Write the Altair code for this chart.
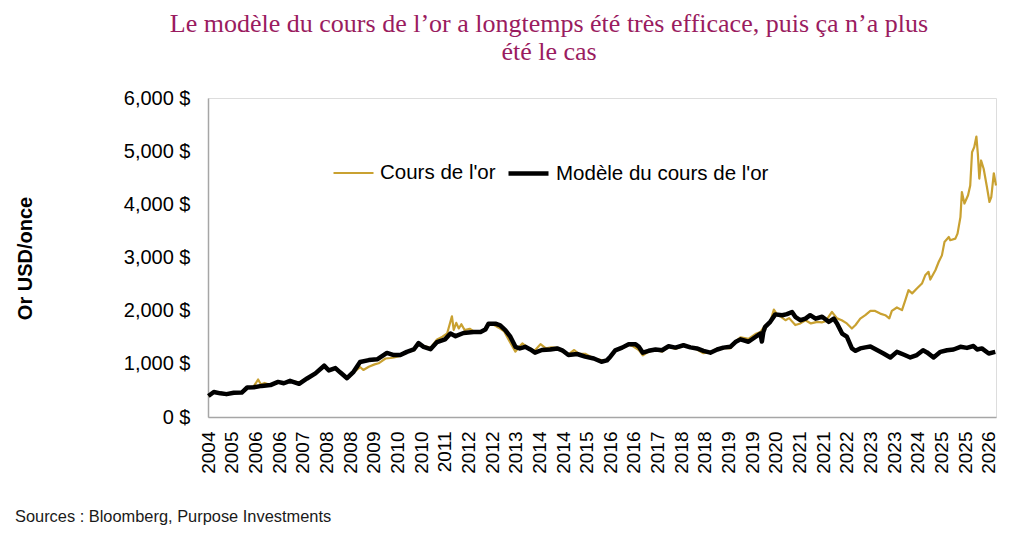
import altair as alt
import pandas as pd

# ---------------- data ----------------
SERIES = ["Cours de l'or", "Modèle du cours de l'or"]
COLORS = ["#C9A131", "#000000"]

model_t = [2005.00, 2005.15, 2005.33, 2005.50, 2005.70, 2005.92, 2006.07, 2006.25, 2006.47, 2006.71,
           2006.92, 2007.08, 2007.25, 2007.50, 2007.72, 2007.95, 2008.19, 2008.32, 2008.50, 2008.63,
           2008.82, 2009.00, 2009.18, 2009.42, 2009.65, 2009.92, 2010.11, 2010.29, 2010.47, 2010.66,
           2010.79, 2010.93, 2011.12, 2011.30, 2011.52, 2011.67, 2011.81, 2012.03, 2012.31, 2012.50,
           2012.63, 2012.72, 2012.91, 2013.04, 2013.18, 2013.32, 2013.46, 2013.58, 2013.73, 2013.87,
           2014.00, 2014.19, 2014.42, 2014.61, 2014.75, 2014.92, 2015.16, 2015.38, 2015.62, 2015.83,
           2015.98, 2016.08, 2016.21, 2016.40, 2016.58, 2016.77, 2016.86, 2016.97, 2017.13, 2017.32,
           2017.50, 2017.68, 2017.87, 2018.09, 2018.28, 2018.46, 2018.64, 2018.83, 2019.02, 2019.19,
           2019.38, 2019.52, 2019.66, 2019.88, 2020.07, 2020.21, 2020.25, 2020.29, 2020.34, 2020.48,
           2020.62, 2020.81, 2020.94, 2021.08, 2021.17, 2021.31, 2021.45, 2021.58, 2021.73, 2021.91,
           2022.09, 2022.23, 2022.32, 2022.46, 2022.59, 2022.73, 2022.83, 2022.96, 2023.10, 2023.24,
           2023.42, 2023.60, 2023.79, 2023.97, 2024.15, 2024.34, 2024.52, 2024.69, 2024.80, 2024.98,
           2025.17, 2025.35, 2025.53, 2025.72, 2025.90, 2026.08, 2026.18, 2026.31, 2026.50, 2026.68]
model_v = [395, 470, 445, 430, 455, 460, 555, 560, 585, 600,
           660, 635, 680, 625, 725, 820, 965, 875, 920, 840,
           730, 850, 1035, 1070, 1085, 1205, 1165, 1165, 1225, 1270,
           1390, 1320, 1275, 1410, 1460, 1570, 1520, 1580, 1600, 1600,
           1645, 1755, 1755, 1725, 1635, 1510, 1320, 1290, 1320, 1270,
           1210, 1260, 1270, 1290, 1255, 1165, 1185, 1135, 1100, 1040,
           1065, 1140, 1255, 1305, 1370, 1370, 1320, 1210, 1245, 1270,
           1255, 1330, 1305, 1350, 1310, 1290, 1245, 1210, 1270, 1305,
           1320, 1410, 1460, 1415, 1505, 1570, 1420, 1600, 1695, 1790,
           1930, 1915, 1935, 1975, 1885, 1820, 1850, 1915, 1850, 1885,
           1790, 1850, 1760, 1570, 1510, 1290, 1245, 1290, 1310, 1325,
           1260, 1195, 1120, 1225, 1175, 1120, 1165, 1255, 1215, 1120,
           1225, 1255, 1270, 1320, 1300, 1335, 1270, 1290, 1195, 1225]

gold_t = [2005.00, 2005.15, 2005.33, 2005.50, 2005.70, 2005.92, 2006.07, 2006.25, 2006.37, 2006.45,
          2006.55, 2006.71, 2006.92, 2007.08, 2007.25, 2007.50, 2007.72, 2007.95, 2008.19, 2008.32,
          2008.50, 2008.63, 2008.82, 2009.00, 2009.18, 2009.27, 2009.42, 2009.58, 2009.69, 2009.88,
          2010.02, 2010.11, 2010.29, 2010.47, 2010.66, 2010.79, 2010.93, 2011.12, 2011.30, 2011.45,
          2011.58, 2011.71, 2011.76, 2011.83, 2011.90, 2011.97, 2012.06, 2012.20, 2012.31, 2012.45,
          2012.60, 2012.72, 2012.85, 2013.00, 2013.15, 2013.30, 2013.46, 2013.58, 2013.65, 2013.80,
          2013.95, 2014.15, 2014.30, 2014.45, 2014.61, 2014.75, 2014.92, 2015.08, 2015.20, 2015.38,
          2015.62, 2015.83, 2015.98, 2016.08, 2016.21, 2016.40, 2016.58, 2016.70, 2016.86, 2016.97,
          2017.13, 2017.32, 2017.50, 2017.68, 2017.87, 2018.09, 2018.28, 2018.46, 2018.64, 2018.83,
          2019.02, 2019.19, 2019.38, 2019.52, 2019.66, 2019.88, 2020.07, 2020.21, 2020.34, 2020.48,
          2020.58, 2020.68, 2020.78, 2020.90, 2021.00, 2021.17, 2021.31, 2021.45, 2021.60, 2021.78,
          2021.90, 2022.00, 2022.18, 2022.32, 2022.45, 2022.59, 2022.73, 2022.83, 2022.96, 2023.10,
          2023.24, 2023.37, 2023.51, 2023.65, 2023.76, 2023.83, 2023.97, 2024.11, 2024.20, 2024.29,
          2024.39, 2024.52, 2024.66, 2024.75, 2024.84, 2024.89, 2025.03, 2025.12, 2025.21, 2025.28,
          2025.40, 2025.44, 2025.58, 2025.64, 2025.72, 2025.76, 2025.83, 2025.93, 2025.99, 2026.04,
          2026.10, 2026.16, 2026.20, 2026.24, 2026.29, 2026.36, 2026.45, 2026.52, 2026.57, 2026.64,
          2026.70]
gold_v = [400, 465, 440, 430, 455, 470, 550, 575, 705, 610,
          640, 600, 640, 650, 680, 650, 730, 820, 960, 880,
          915, 830, 740, 840, 940, 885, 945, 990, 1010, 1100,
          1110, 1120, 1150, 1225, 1255, 1380, 1340, 1300, 1460, 1510,
          1575, 1895, 1640, 1770, 1665, 1745, 1635, 1660, 1610, 1590,
          1620, 1760, 1740, 1680, 1610, 1420, 1230, 1330, 1385, 1300,
          1220, 1370, 1290, 1310, 1300, 1230, 1180, 1260, 1190, 1190,
          1100, 1070, 1060, 1130, 1250, 1290, 1360, 1330, 1260, 1160,
          1230, 1260, 1230, 1320, 1280, 1340, 1320, 1270, 1200, 1220,
          1290, 1300, 1290, 1420, 1500, 1470, 1560, 1600, 1720, 1790,
          2020, 1915, 1885, 1820, 1860, 1730, 1760, 1820, 1760, 1790,
          1780, 1800, 1975, 1855, 1820, 1760, 1665, 1730, 1850, 1915,
          1995, 1995, 1945, 1915, 1855, 1995, 2060, 2010, 2195, 2385,
          2325, 2415, 2510, 2665, 2730, 2585, 2760, 2915, 3040, 3290,
          3385, 3325, 3355, 3450, 3760, 4230, 4015, 4170, 4355, 4980,
          5075, 5275, 4950, 4485, 4825, 4670, 4325, 4045, 4135, 4585,
          4355]

Y_TICKS = [0, 1000, 2000, 3000, 4000, 5000, 6000]
X_FIRST_TICK = 2004.997      # first labelled week (end of 2004)
X_TICK_STEP = 0.6516         # labels every 34 weeks
N_X_TICKS = 34
X_DOMAIN = [2004.99, 2026.70]

TITLE = ["Le modèle du cours de l’or a longtemps été très efficace, puis ça n’a plus",
         "été le cas"]
SOURCE = "Sources : Bloomberg, Purpose Investments"
Y_TITLE = "Or USD/once"

# ---------------- build ----------------
x_ticks = [round(X_FIRST_TICK + i * X_TICK_STEP, 4) for i in range(N_X_TICKS)]

df = pd.concat([
    pd.DataFrame({"t": gold_t, "v": gold_v, "series": SERIES[0]}),
    pd.DataFrame({"t": model_t, "v": model_v, "series": SERIES[1]}),
], ignore_index=True)

FONT = "Liberation Sans"

x_enc = alt.X("t:Q",
              scale=alt.Scale(domain=X_DOMAIN, nice=False, zero=False),
              axis=alt.Axis(values=x_ticks, labelExpr="floor(datum.value)", labelAngle=270,
                            labelAlign="right", labelBaseline="middle",
                            labelFontSize=19, labelPadding=14, labelColor="#000000",
                            labelOverlap=False, labelFlush=False, labelBound=False,
                            ticks=False, grid=False, domainColor="#A6A6A6", domainWidth=1.5,
                            title=None))
y_enc = alt.Y("v:Q",
              scale=alt.Scale(domain=[0, 6000], nice=False),
              axis=alt.Axis(values=Y_TICKS, labelExpr="format(datum.value, ',') + ' $'",
                            labelFontSize=20, labelPadding=18, labelColor="#000000",
                            ticks=False, grid=False, domainColor="#A6A6A6", domainWidth=1.5,
                            title=Y_TITLE, titleFontSize=20, titleFontWeight="bold",
                            titleColor="#000000", titleX=-183, titleY=160, titleAngle=270,
                            titleAlign="center", titleBaseline="middle"))
legend = alt.Legend(title=None, orient="none", legendX=124, legendY=53, direction="horizontal",
                    symbolType="stroke", symbolSize=1600, labelFontSize=20.5, labelColor="#000000",
                    columnPadding=3, labelOffset=5, labelLimit=400)
color_enc = alt.Color("series:N", scale=alt.Scale(domain=SERIES, range=COLORS), legend=legend)
sw_enc = alt.StrokeWidth("series:N", scale=alt.Scale(domain=SERIES, range=[2.2, 4.5]), legend=legend)

base = alt.Chart(df)
gold_line = base.transform_filter(alt.datum.series == SERIES[0]).mark_line(strokeJoin="round").encode(
    x=x_enc, y=y_enc, color=color_enc, strokeWidth=sw_enc)
model_line = base.transform_filter(alt.datum.series == SERIES[1]).mark_line(strokeJoin="round").encode(
    x=x_enc, y=y_enc, color=color_enc, strokeWidth=sw_enc)

source = alt.Chart(pd.DataFrame({"txt": [SOURCE]})).mark_text(
    align="left", baseline="middle", fontSize=16.4, font=FONT, color="#1a1a1a"
).encode(x=alt.value(-193), y=alt.value(419), text="txt:N")

chart = alt.layer(gold_line, model_line, source).properties(
    width=788, height=319,
    autosize=alt.AutoSizeParams(type="none"),
    padding={"left": 200, "top": 90, "right": 16, "bottom": 112},
    title=alt.TitleParams(text=TITLE, font="Liberation Serif", fontSize=26, fontWeight="normal",
                          color="#9A1C5F", anchor="middle", dx=-53, offset=23, lineHeight=28),
).configure_view(stroke=None).configure(font=FONT)

chart.save("out.html", embed_options={"renderer": "svg", "actions": False})
